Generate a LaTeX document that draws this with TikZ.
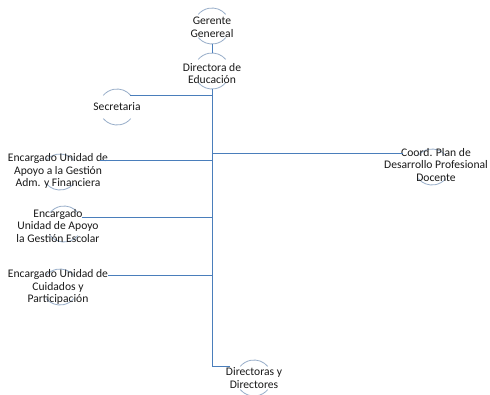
\documentclass[tikz,border=0pt]{standalone}
\usepackage{fontspec}
\setmainfont{Carlito}
\usetikzlibrary{positioning}
\definecolor{linkblue}{RGB}{74,126,187}
\definecolor{ringgrey}{RGB}{150,172,200}

\begin{document}
\begin{tikzpicture}[x=0.75pt,y=-0.75pt,node distance=33.75pt,
  ring/.style={circle,minimum size=27pt,inner sep=0pt,outer sep=0pt},
  arcline/.style={draw=ringgrey,line width=0.6pt},
  tag/.style={inner sep=0pt,align=center,text=black!90,font=\fontsize{8.7}{9.4}\selectfont},
  link/.style={draw=linkblue,line width=0.75pt}]
\useasboundingbox (0,0) rectangle (490,394);
\node[ring] (ger) at (212,26) {};
\node[ring] (dir) [below of=ger] {};
\node[ring] (sec) at (117,107) {};
\node[ring] (enc1) at (60,172) {};
\node[ring] (enc2) at (64,224) {};
\node[ring] (enc3) at (60,287) {};
\node[ring] (coord) at (432,167) {};
\node[ring] (dirs) at (254,378) {};
\foreach \n in {ger,dir,sec,enc1,enc2,enc3,coord,dirs}
  \path[arcline] (\n.40) arc[start angle=40,end angle=140,radius=13.5pt]
    (\n.220) arc[start angle=220,end angle=320,radius=13.5pt];
\node[tag] at ([yshift=-1pt]ger) {Gerente\\Genereal};
\node[tag] at ([yshift=-2pt]dir) {Directora de\\Educación};
\node[tag] at (sec) {Secretaria};
\node[tag] at (58,171) {Encargado Unidad de\\Apoyo a la Gestión\\Adm. y Financiera};
\node[tag] at (58,226) {Encargado\\Unidad de Apoyo\\la Gestión Escolar};
\node[tag] at (58,287) {Encargado Unidad de\\Cuidados y\\Participación};
\node[tag] at (436,165) {Coord. Plan de\\Desarrollo Profesional\\Docente};
\node[tag] at (dirs) {Directoras y\\Directores};
\coordinate (secin) at (130,95);
\coordinate (coordin) at (403,153);
\coordinate (enc1in) at (100,160);
\coordinate (enc2in) at (82,217);
\coordinate (enc3in) at (108,275);
\coordinate (dirsin) at (230,366);
\path[link] (ger) edge (dir)
  (dir) edge (dir.south |- dirsin)
  (dir.south |- dirsin) edge (dirsin)
  (dir.south |- secin) edge (secin)
  (dir.south |- coordin) edge (coordin)
  (dir.south |- enc1in) edge (enc1in)
  (dir.south |- enc2in) edge (enc2in)
  (dir.south |- enc3in) edge (enc3in);
\end{tikzpicture}
\end{document}
